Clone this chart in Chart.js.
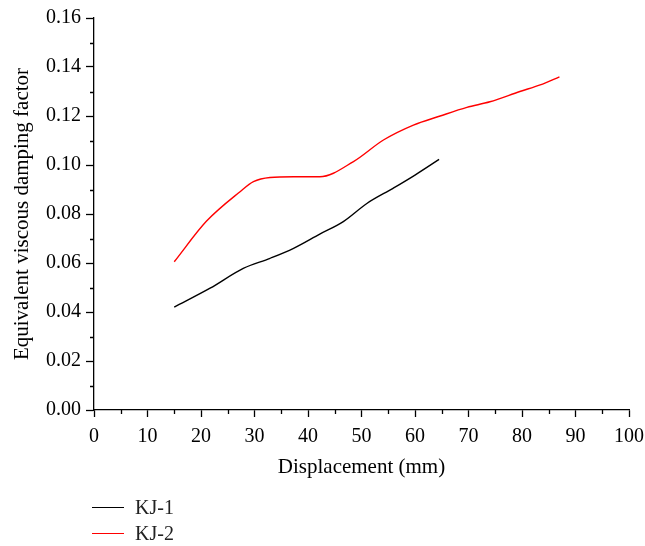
<!DOCTYPE html>
<html>
<head>
<meta charset="utf-8">
<script src="https://cdn.jsdelivr.net/npm/chart.js@4/dist/chart.umd.min.js"></script>
<style>
  body { margin: 0; background: #fff; }
  #wrap { position: relative; width: 645px; height: 546px; }
  #legend { position: absolute; left: 92px; top: 494px; font-family: "Liberation Serif", serif; font-size: 20px; color: #222; }
  #legend div { height: 26px; display: flex; align-items: center; }
  #legend span.ln { display: inline-block; width: 32px; height: 0; border-top: 1.5px solid; margin-right: 11px; }
</style>
</head>
<body>
<div id="wrap">
  <canvas id="chart" width="645" height="546"></canvas>
  <div id="legend"></div>
</div>
<script>
// Valori: spostamento (mm) e coefficiente di smorzamento
const kj1Disp = [15, 21.7, 27.9, 32.9, 37.3, 42.2, 46.6, 51, 55.9, 60, 64.5];
const kj1Val = [0.042, 0.0497, 0.0578, 0.0619, 0.066, 0.0718, 0.0769, 0.0843, 0.0905, 0.0959, 0.1023];

const kj2Disp = [15, 21, 27.3, 29.8, 32.9, 37.3, 42.2, 48.5, 54.1, 59.7, 64.7, 69.7, 74, 79.6, 83.4, 87];
const kj2Val = [0.0605, 0.0770, 0.0891, 0.0932, 0.0949, 0.0952, 0.0952, 0.1014, 0.1102, 0.1163, 0.120, 0.1235, 0.1258, 0.130, 0.1327, 0.136];

const xMinorTicks = [5, 15, 25, 35, 45, 55, 65, 75, 85, 95];
const yMinorTicks = [0.01, 0.03, 0.05, 0.07, 0.09, 0.11, 0.13, 0.15];

const serif = '"Liberation Serif", "Times New Roman", serif';

function toPoints(xs, ys) {
    return xs.map((x, i) => ({ x: x, y: ys[i] }));
}

// tacche secondarie disegnate dalle scale
const minorTicks = {
    id: 'minorTicks',
    afterDraw(chart) {
        const ctx = chart.ctx;
        const xs = chart.scales.x;
        const ys = chart.scales.y;
        ctx.save();
        ctx.strokeStyle = '#000';
        ctx.lineWidth = 1.3;
        ctx.beginPath();
        xMinorTicks.forEach(v => {
            const px = Math.round(xs.getPixelForValue(v)) + 0.5;
            ctx.moveTo(px, xs.top);
            ctx.lineTo(px, xs.top + 4);
        });
        yMinorTicks.forEach(v => {
            const py = Math.round(ys.getPixelForValue(v)) + 0.5;
            ctx.moveTo(ys.right, py);
            ctx.lineTo(ys.right - 4, py);
        });
        ctx.stroke();
        ctx.restore();
    }
};

const datasets = [
    { label: 'KJ-1', data: toPoints(kj1Disp, kj1Val), borderColor: '#000000' },
    { label: 'KJ-2', data: toPoints(kj2Disp, kj2Val), borderColor: '#ff0000' }
];

const chart = new Chart(document.getElementById('chart'), {
    type: 'line',
    data: {
        datasets: datasets.map(d => Object.assign({
            borderWidth: 1.4,
            pointRadius: 0,
            cubicInterpolationMode: 'monotone',
            fill: false
        }, d))
    },
    options: {
        responsive: false,
        animation: false,
        layout: { padding: { left: 0, right: 16, top: 18, bottom: 60 } },
        plugins: {
            legend: { display: false },
            tooltip: { enabled: false }
        },
        scales: {
            x: {
                type: 'linear',
                min: 0,
                max: 100,
                afterFit: s => { s.height = 76; s.paddingLeft = 0; s.paddingRight = 0; },
                border: { display: true, color: '#000', width: 1.3 },
                grid: { drawOnChartArea: false, drawTicks: true, tickLength: 7, color: '#000', tickWidth: 1.3 },
                ticks: { stepSize: 10, padding: 8, color: '#000', font: { family: serif, size: 20 }, maxRotation: 0 },
                title: { display: true, text: 'Displacement (mm)', color: '#000', font: { family: serif, size: 21 }, padding: { top: 0, bottom: 6 } }
            },
            y: {
                min: 0,
                max: 0.16,
                afterFit: s => { s.width = 94; s.paddingTop = 0; s.paddingBottom = 0; },
                border: { display: true, color: '#000', width: 1.3 },
                grid: { drawOnChartArea: false, drawTicks: true, tickLength: 8, color: '#000', tickWidth: 1.3 },
                ticks: { stepSize: 0.02, padding: 5, color: '#000', font: { family: serif, size: 20 }, callback: v => v.toFixed(2) },
                title: { display: true, text: 'Equivalent viscous damping factor', color: '#000', font: { family: serif, size: 21 }, padding: { top: 10, bottom: 0 } }
            }
        }
    },
    plugins: [minorTicks]
});

// legenda in HTML, in colonna sotto il grafico
const legendEl = document.getElementById('legend');
datasets.forEach(d => {
    const row = document.createElement('div');
    const ln = document.createElement('span');
    ln.className = 'ln';
    ln.style.borderColor = d.borderColor;
    row.appendChild(ln);
    row.appendChild(document.createTextNode(d.label));
    legendEl.appendChild(row);
});
</script>
</body>
</html>
